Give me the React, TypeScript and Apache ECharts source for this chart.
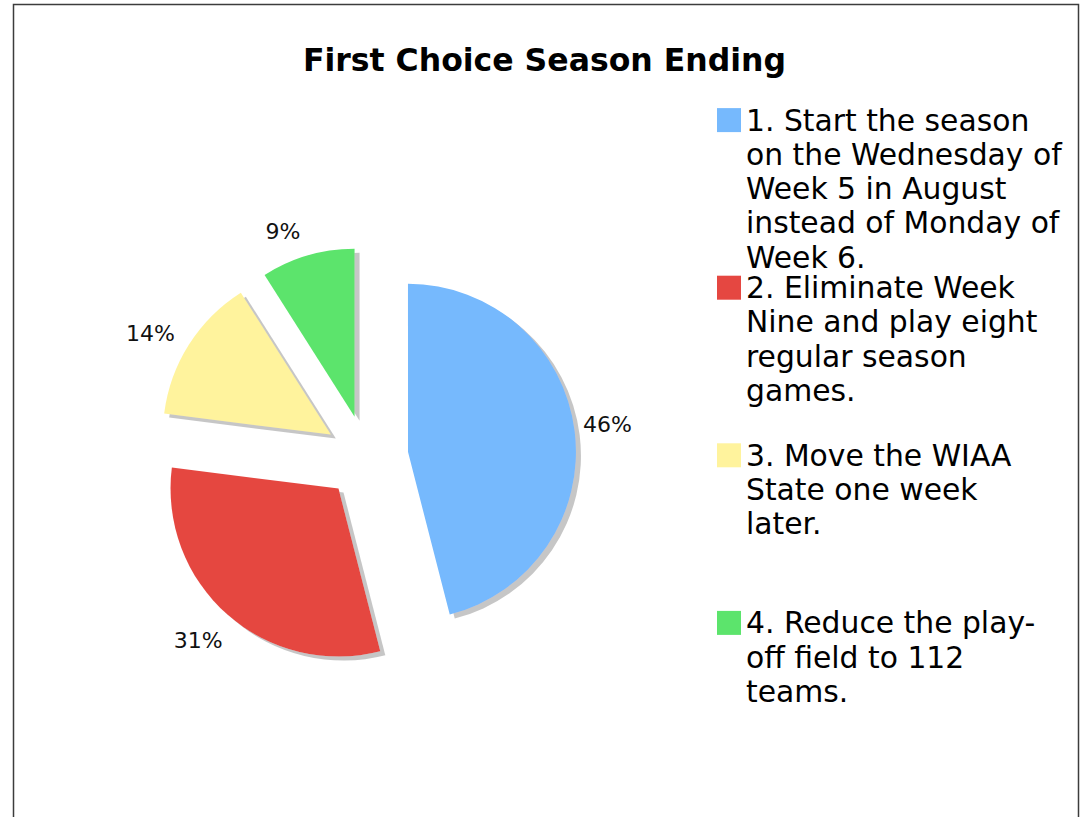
import { useEffect, useRef } from 'react';
import * as echarts from 'echarts';

// ---- data ----
const categories = [
  '1. Start the season on the Wednesday of Week 5 in August instead of Monday of Week 6.',
  '2. Eliminate Week Nine and play eight regular season games.',
  '3. Move the WIAA State one week later.',
  '4. Reduce the play-off field to 112 teams.',
];
const legendLines = [
  ['1. Start the season', 'on the Wednesday of', 'Week 5 in August', 'instead of Monday of', 'Week 6.'],
  ['2. Eliminate Week', 'Nine and play eight', 'regular season', 'games.'],
  ['3. Move the WIAA', 'State one week', 'later.'],
  ['4. Reduce the play-', 'off field to 112', 'teams.'],
];
const values = [46, 31, 14, 9];
const colors = ['#76b9fd', '#e54741', '#fff39d', '#5ce46c'];
const titleText = 'First Choice Season Ending';

// ---- layout constants ----
const FONT = "'DejaVu Sans', Verdana, sans-serif";
const CENTER = [366.3, 457.1];
const RADIUS = 168;
const EXPLODE = 42;
const LEGEND_LH = 34.3;
const LEGEND_FS = 29.8;
const LEGEND_FIRST = 120;
const LEGEND_SLOT = 167.6;
const labelNudge = [[-2, -2], [-6, 0], [-9, 8], [-15, 10]];

function buildOption() {
  const legends = categories.map((name, i) => {
    const n = legendLines[i].length;
    return {
      show: true,
      orient: 'vertical',
      left: 717,
      top: LEGEND_FIRST + i * LEGEND_SLOT - LEGEND_FS / 2,
      padding: 0,
      itemGap: 0,
      itemWidth: 24,
      itemHeight: 24,
      icon: 'rect',
      selectedMode: false,
      data: [name],
      itemStyle: { borderWidth: 0, shadowBlur: 0, shadowOffsetX: 0, shadowOffsetY: 0 },
      formatter: () => '{t|' + legendLines[i].join('\n') + '}',
      textStyle: {
        padding: [(n - 1) * LEGEND_LH, 0, 0, 0],
        rich: {
          t: {
            fontFamily: FONT,
            fontSize: LEGEND_FS,
            lineHeight: LEGEND_LH,
            color: '#000',
          },
        },
      },
    };
  });

  return {
    animation: false,
    backgroundColor: '#fff',
    title: {
      text: titleText,
      left: 303,
      top: 44,
      padding: 0,
      textStyle: { fontFamily: FONT, fontWeight: 'bold', fontSize: 31.5, color: '#000' },
    },
    legend: legends,
    graphic: [
      {
        type: 'rect',
        silent: true,
        z: -10,
        shape: { x: 13.5, y: 4.5, width: 1065, height: 900 },
        style: { fill: 'none', stroke: '#3c3c3c', lineWidth: 1.5 },
      },
    ],
    series: [
      {
        type: 'pie',
        name: 'main',
        center: CENTER,
        radius: RADIUS,
        startAngle: 90,
        clockwise: true,
        selectedMode: 'multiple',
        selectedOffset: EXPLODE,
        avoidLabelOverlap: false,
        emphasis: { disabled: true },
        label: { show: false },
        labelLine: { show: false },
        itemStyle: {
          borderWidth: 0,
          shadowColor: '#c6c6c6',
          shadowBlur: 0,
          shadowOffsetX: 5,
          shadowOffsetY: 4,
        },
        data: values.map((v, i) => ({
          name: categories[i],
          value: v,
          selected: true,
          itemStyle: { color: colors[i] },
        })),
        z: 2,
      },
      {
        type: 'pie',
        name: 'labels',
        center: CENTER,
        radius: RADIUS,
        startAngle: 90,
        clockwise: true,
        selectedMode: false,
        silent: true,
        legendHoverLink: false,
        avoidLabelOverlap: false,
        emphasis: { disabled: true },
        itemStyle: { color: 'rgba(0,0,0,0)', borderWidth: 0 },
        label: {
          show: true,
          position: 'outside',
          formatter: '{d}%',
          fontFamily: FONT,
          fontSize: 22,
          color: '#111',
          distanceToLabelLine: 0,
        },
        labelLine: { show: false, length: 245 - RADIUS, length2: 0 },
        labelLayout: (p: any) => {
          const i = p.dataIndex;
          const r = p.labelRect;
          const ax = p.align === 'left' ? r.x : p.align === 'right' ? r.x + r.width : r.x + r.width / 2;
          return {
            x: ax + labelNudge[i][0],
            y: r.y + r.height / 2 + labelNudge[i][1],
            align: 'center',
            verticalAlign: 'middle',
            hideOverlap: false,
          };
        },
        data: values.map((v, i) => ({ name: categories[i], value: v })),
        z: 3,
      },
    ],
  };
}

export default function App() {
  const ref = useRef<HTMLDivElement>(null);
  useEffect(() => {
    const chart = echarts.init(ref.current!, null, { renderer: 'svg' });
    chart.setOption(buildOption() as any);
    return () => chart.dispose();
  }, []);
  return (
    <div
      ref={ref}
      style={{ position: 'fixed', left: 0, top: 0, width: 1081, height: 817, background: '#fff' }}
    />
  );
}
